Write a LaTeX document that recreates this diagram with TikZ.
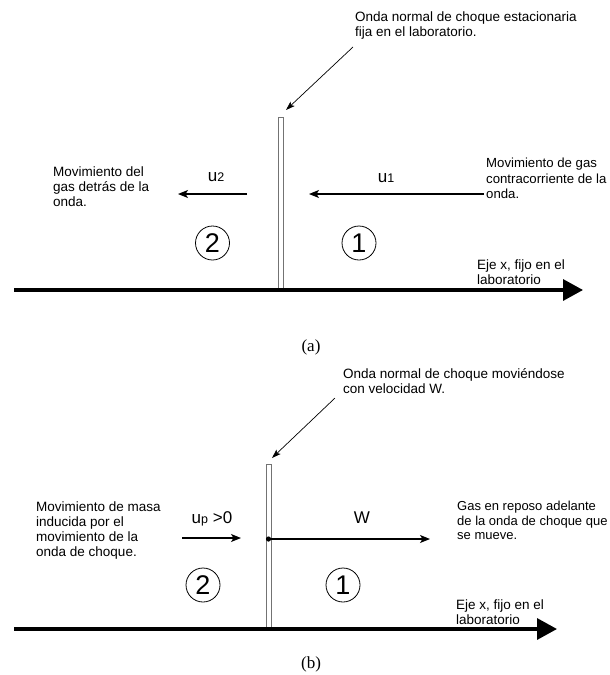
\documentclass[tikz,border=0pt]{standalone}
\usepackage{fontspec}
\setmainfont{Liberation Serif}
\setsansfont{Liberation Sans}
\usepackage{tikz}
\usetikzlibrary{arrows.meta,positioning}

\tikzset{
    txt/.style    = {font=\sffamily\fontsize{13.5}{15}\selectfont, align=left, anchor=north west, inner sep=0pt},
    vel/.style    = {font=\sffamily\fontsize{17}{17}\selectfont, inner sep=0pt},
    zone/.style   = {draw, circle, line width=0.8pt, minimum size=34pt, inner sep=0pt,
                     font=\sffamily\fontsize{27}{27}\selectfont},
    wall/.style   = {draw=black!55, fill=white, line width=0.9pt, rectangle, inner sep=0pt},
    axis/.style   = {line width=3.3pt, -{Triangle[length=20pt,width=21pt]}},
    flow/.style   = {line width=1.2pt, -{Stealth[length=10pt,width=8pt,inset=2.5pt]}},
    pointer/.style= {line width=0.7pt, -{Stealth[length=9pt,width=6pt,inset=2pt]}},
    panel/.style  = {font=\rmfamily\fontsize{17}{17}\selectfont, inner sep=0pt}
}
\newcommand{\sub}[1]{{\fontsize{12.5}{12.5}\selectfont #1}}

\begin{document}
\begin{tikzpicture}[x=1pt, y=-1pt]
    \useasboundingbox (0,0) rectangle (610,675);

    % ---------------- (a) stationary shock ----------------
    % Nodes
    \node [wall, minimum width=5pt, minimum height=173pt] (wallA) at (280.5,203.5) {};
    \node [txt] (topA)   at (355,12)  {Onda normal de choque estacionaria\\fija en el laboratorio.};
    \node [txt] (leftA)  at (53,167)  {Movimiento del\\gas detrás de la\\onda.};
    \node [txt, font=\sffamily\fontsize{13.2}{15.5}\selectfont]
                (rightA) at (486,158) {Movimiento de gas\\contracorriente de la\\onda.};
    \node [vel] (uTwo)   at (216,177) {u\sub{2}};
    \node [vel] (uOne)   at (386,178) {u\sub{1}};
    \node [zone] (twoA)  at (212.5,243) {2};
    \node [zone] (oneA)  at (359,243) {1};
    \node [txt] (ejeA)   at (477,260) {Eje x, fijo en el\\laboratorio};
    \node [panel] (capA) at (311,347) {(a)};

    \coordinate (ptrA)  at (353,47);
    \coordinate (hitA)  at (286,110);
    \coordinate (u2s)   at (247,194);
    \coordinate (u2e)   at (178,194);
    \coordinate (u1s)   at (484,194);
    \coordinate (u1e)   at (309,194);
    \coordinate (xA0)   at (14,290);
    \coordinate (xA1)   at (583,290);

    % Paths
    \path [pointer] (ptrA) edge (hitA);
    \path [flow]    (u2s)  edge (u2e);
    \path [flow]    (u1s)  edge (u1e);
    \draw [axis]    (xA0) -- (xA1);

    % ---------------- (b) moving shock ----------------
    % Nodes
    \node [wall, minimum width=5pt, minimum height=165pt] (wallB) at (268.5,546.5) {};
    \node [txt] (topB)   at (343,368) {Onda normal de choque moviéndose\\con velocidad W.};
    \node [txt] (leftB)  at (36,502)  {Movimiento de masa\\inducida por el\\movimiento de la\\onda de choque.};
    \node [txt, font=\sffamily\fontsize{13}{14.5}\selectfont]
                (rightB) at (457,501) {Gas en reposo adelante\\de la onda de choque que\\se mueve.};
    \node [vel] (uP)     at (212,519) {u\sub{p} >0};
    \node [vel] (wVel)   at (362,518) {W};
    \node [zone] (twoB)  at (203,585) {2};
    \node [zone] (oneB)  at (343,585) {1};
    \node [txt] (ejeB)   at (456,600) {Eje x, fijo en el\\laboratorio};
    \node [panel] (capB) at (311,664) {(b)};

    \coordinate (ptrB)  at (335,398);
    \coordinate (hitB)  at (272,458);
    \coordinate (ups)   at (182,538);
    \coordinate (upe)   at (241,538);
    \coordinate (front) at (268.5,539);
    \coordinate (wEnd)  at (430,539);
    \coordinate (xB0)   at (14,629);
    \coordinate (xB1)   at (557,629);

    % Paths
    \path [pointer] (ptrB) edge (hitB);
    \path [flow]    (ups)  edge (upe);
    \path [flow]    (front) edge (wEnd);
    \fill (front) circle (2.6pt);
    \draw [axis]    (xB0) -- (xB1);
\end{tikzpicture}
\end{document}
